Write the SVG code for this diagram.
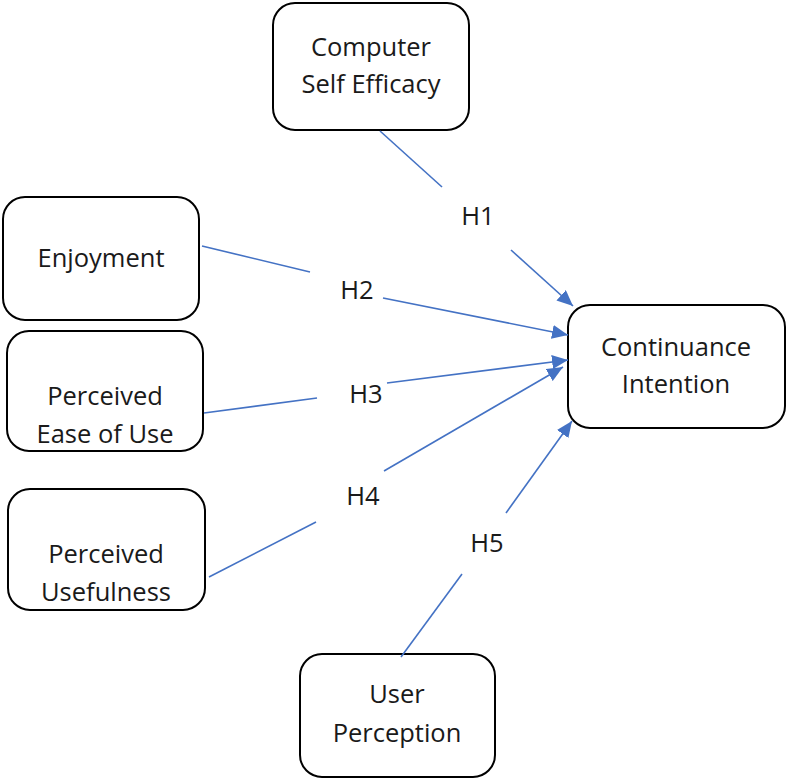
<svg xmlns="http://www.w3.org/2000/svg" width="787" height="781" viewBox="0 0 787 781">
<style>
.box{fill:#fff;stroke:#000;stroke-width:2}
.t{font-family:"Open Sans","Noto Sans",sans-serif;font-size:25.5px;fill:#1a1a1a;text-anchor:middle}
.c{stroke:#4472C4;stroke-width:1.6;fill:none}
</style>
<defs>
<marker id="a" markerUnits="userSpaceOnUse" markerWidth="18" markerHeight="14" refX="16" refY="7" orient="auto">
<path d="M0,0 L16,7 L0,14 Z" fill="#4472C4"/>
</marker>
</defs>
<rect width="787" height="781" fill="#fff"/>
<g id="cse"><rect class="box" x="273" y="3" width="196" height="127" rx="22"/><text class="t" x="371" y="56">Computer</text><text class="t" x="371" y="93">Self Efficacy</text></g>
<g id="enj"><rect class="box" x="3" y="197" width="196" height="123" rx="22"/><text class="t" x="101" y="267">Enjoyment</text></g>
<g id="peou"><rect class="box" x="7" y="331" width="196" height="120" rx="22"/><text class="t" x="105" y="405">Perceived</text><text class="t" x="105" y="443">Ease of Use</text></g>
<g id="pu"><rect class="box" x="8" y="489" width="197" height="121" rx="22"/><text class="t" x="106" y="563">Perceived</text><text class="t" x="106" y="601">Usefulness</text></g>
<g id="up"><rect class="box" x="300" y="654" width="195" height="123" rx="22"/><text class="t" x="397" y="703">User</text><text class="t" x="397" y="742">Perception</text></g>
<g id="ci"><rect class="box" x="568" y="305" width="217" height="123" rx="22"/><text class="t" x="676" y="356">Continuance</text><text class="t" x="676" y="393">Intention</text></g>
<g id="connectors">
<line class="c" x1="380" y1="131" x2="442" y2="187"/>
<line class="c" x1="511" y1="250" x2="573" y2="306" marker-end="url(#a)"/>
<line class="c" x1="202" y1="246" x2="310" y2="272"/>
<line class="c" x1="383" y1="298" x2="568" y2="335" marker-end="url(#a)"/>
<line class="c" x1="204" y1="413" x2="317" y2="398"/>
<line class="c" x1="387" y1="383" x2="568" y2="360" marker-end="url(#a)"/>
<line class="c" x1="209" y1="577" x2="316" y2="522"/>
<line class="c" x1="384" y1="471" x2="563" y2="367" marker-end="url(#a)"/>
<line class="c" x1="401" y1="657" x2="462" y2="574"/>
<line class="c" x1="506" y1="513" x2="572" y2="421" marker-end="url(#a)"/>
<text class="t" x="478" y="225">H1</text>
<text class="t" x="357" y="299">H2</text>
<text class="t" x="366" y="403">H3</text>
<text class="t" x="363" y="505">H4</text>
<text class="t" x="487" y="552">H5</text>
</g>
</svg>
